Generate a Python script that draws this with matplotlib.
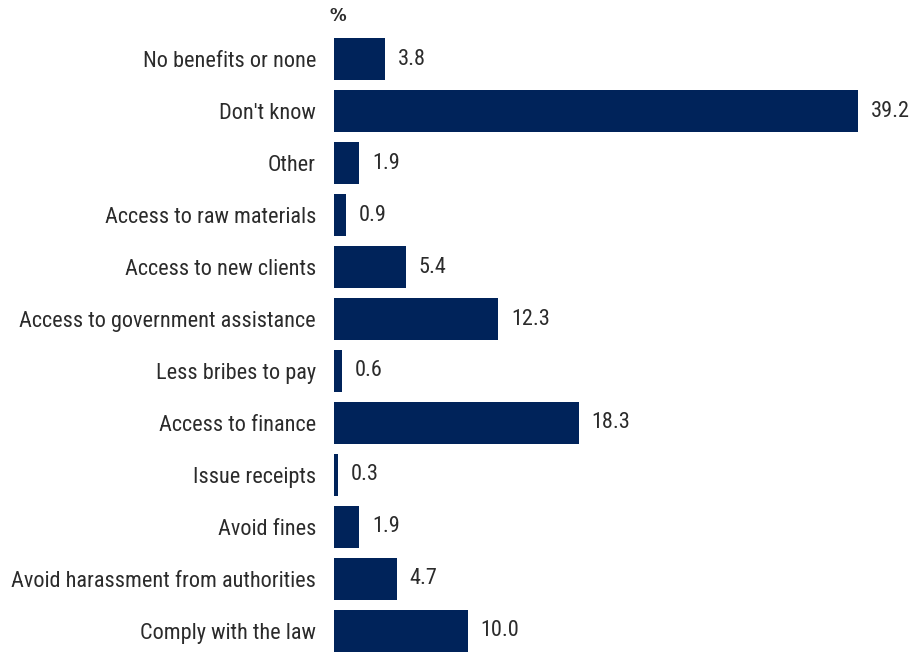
import matplotlib.pyplot as plt

# survey responses: perceived benefits of registration
categories = [
    "No benefits or none",
    "Don't know",
    "Other",
    "Access to raw materials",
    "Access to new clients",
    "Access to government assistance",
    "Less bribes to pay",
    "Access to finance",
    "Issue receipts",
    "Avoid fines",
    "Avoid harassment from authorities",
    "Comply with the law",
]
values = [3.8, 39.2, 1.9, 0.9, 5.4, 12.3, 0.6, 18.3, 0.3, 1.9, 4.7, 10.0]

bar_color = "#00235a"
text_color = "#2b2b2b"
font = ["Roboto Condensed", "Roboto", "DejaVu Sans"]
fsize = 16

W, H = 919, 652
fig = plt.figure(figsize=(W / 100, H / 100), dpi=100)
left = 334 / W
ax = fig.add_axes([left, 0, 1 - left - 10 / W, 614 / H])

pos = list(range(len(categories)))
ax.barh(pos, values, height=0.81, color=bar_color)
for p, v in zip(pos, values):
    ax.text(v + 0.95, p, f"{v:.1f}", va="center", ha="left",
            fontsize=fsize, color=text_color, family=font)

ax.set_xlim(0, 43)
ax.set_ylim(len(categories) - 1 + 0.404, -0.404)
ax.set_yticks(pos)
ax.set_yticklabels(categories, fontsize=fsize, color=text_color, family=font)
ax.tick_params(axis="y", length=0, pad=13)
ax.set_xticks([])
for s in ax.spines.values():
    s.set_visible(False)

# unit marker above the first bar
fig.text(330 / W, 1 - 16 / H, "%", ha="left", va="center",
         fontsize=12, fontweight="bold", color=text_color,
         family="DejaVu Sans")

fig.savefig("out.png", dpi=100)
